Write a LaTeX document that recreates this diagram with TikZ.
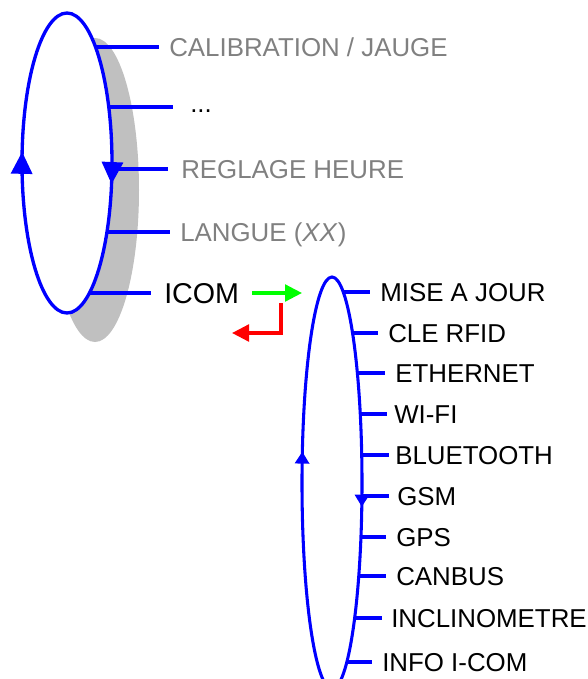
\documentclass[tikz,border=0pt]{standalone}
\usepackage{fontspec}
\setmainfont{Liberation Sans}
\usetikzlibrary{arrows.meta, decorations.markings, backgrounds}

\definecolor{shadowgray}{RGB}{192,192,192}
\definecolor{textgray}{RGB}{128,128,128}

\begin{document}
\begin{tikzpicture}[
    x=0.75pt, y=-0.75pt,
    branch/.style={draw=blue, line width=2.5pt},
    item/.style={anchor=west, inner xsep=7.5pt, inner ysep=0pt,
                 font=\fontsize{19.4}{23}\selectfont, text height=13.9pt, text depth=0pt},
    greyitem/.style={item, text=textgray},
    bigloop/.style={draw=blue, line width=2.5pt, fill=white, postaction={decorate},
        decoration={markings,
          mark=at position 0.032 with {\arrow{Triangle[width=15.75pt,length=16.5pt]}},
          mark=at position 0.517 with {\arrow{Triangle[width=15.75pt,length=16.5pt]}}}},
    smallloop/.style={draw=blue, line width=2.3pt, fill=white, postaction={decorate},
        decoration={markings,
          mark=at position 0.028 with {\arrow{Triangle[width=10.5pt,length=9pt]}},
          mark=at position 0.537 with {\arrow{Triangle[width=10.5pt,length=9pt]}}}},
    go/.style={draw=green, line width=2.5pt, -{Triangle[width=12.5pt,length=12.75pt]}},
    back/.style={draw=red, line width=2.5pt, -{Triangle[width=12.5pt,length=12.75pt]}}
]
\useasboundingbox (0,0) rectangle (587,679);
\clip (0,0) rectangle (587,679);

% main menu
\coordinate (lc) at (67,163);
\node[greyitem] (cal) at (159,47) {CALIBRATION / JAUGE};
\node[item, inner xsep=12.75pt, text height=8pt] (dots) at (173,107) {...};
\node[greyitem, inner xsep=9.75pt] (reg) at (168,169) {REGLAGE HEURE};
\node[greyitem] (lang) at (170,232) {LANGUE (\textit{XX})};
\node[item, font=\fontsize{21.5}{26}\selectfont, text height=15.4pt, inner xsep=9.75pt] (icom) at (151,293) {ICOM};

% ICOM sub menu
\coordinate (rc) at (332,483);
\node[item] (maj)  at (370,292) {MISE A JOUR};
\node[item] (rfid) at (378,333) {CLE RFID};
\node[item] (eth)  at (385,373) {ETHERNET};
\node[item, inner xsep=5.25pt] (wifi) at (387,414) {WI-FI};
\node[item, inner xsep=4.5pt]  (bt)   at (389,455) {BLUETOOTH};
\node[item, inner xsep=6pt]    (gsm)  at (389,496) {GSM};
\node[item] (gps)  at (386,537) {GPS};
\node[item] (can)  at (386,576) {CANBUS};
\node[item, inner xsep=6.75pt] (incl) at (382,618) {INCLINOMETRE};
\node[item] (info) at (372,662) {INFO I-COM};

\begin{scope}[on background layer]
  \fill[shadowgray] (95,190) ellipse [x radius=44, y radius=152];
  \foreach \n in {cal,dots,reg,lang,icom}
    \draw[branch] (lc |- \n.west) -- (\n.west);
  \foreach \n in {maj,rfid,eth,wifi,bt,gsm,gps,can,incl,info}
    \draw[branch] (rc |- \n.west) -- (\n.west);
\end{scope}

\draw[bigloop] (lc) ellipse [x radius=45, y radius=150];
\draw[smallloop] (rc) ellipse [x radius=30, y radius=206];

% enter / leave
\coordinate (gtip) at (302,293);
\coordinate (rstart) at (281,303);
\coordinate (rtip) at (232,333);
\draw[go] (icom.east) -- (gtip);
\draw[back] (rstart) |- (rtip);

\end{tikzpicture}
\end{document}
